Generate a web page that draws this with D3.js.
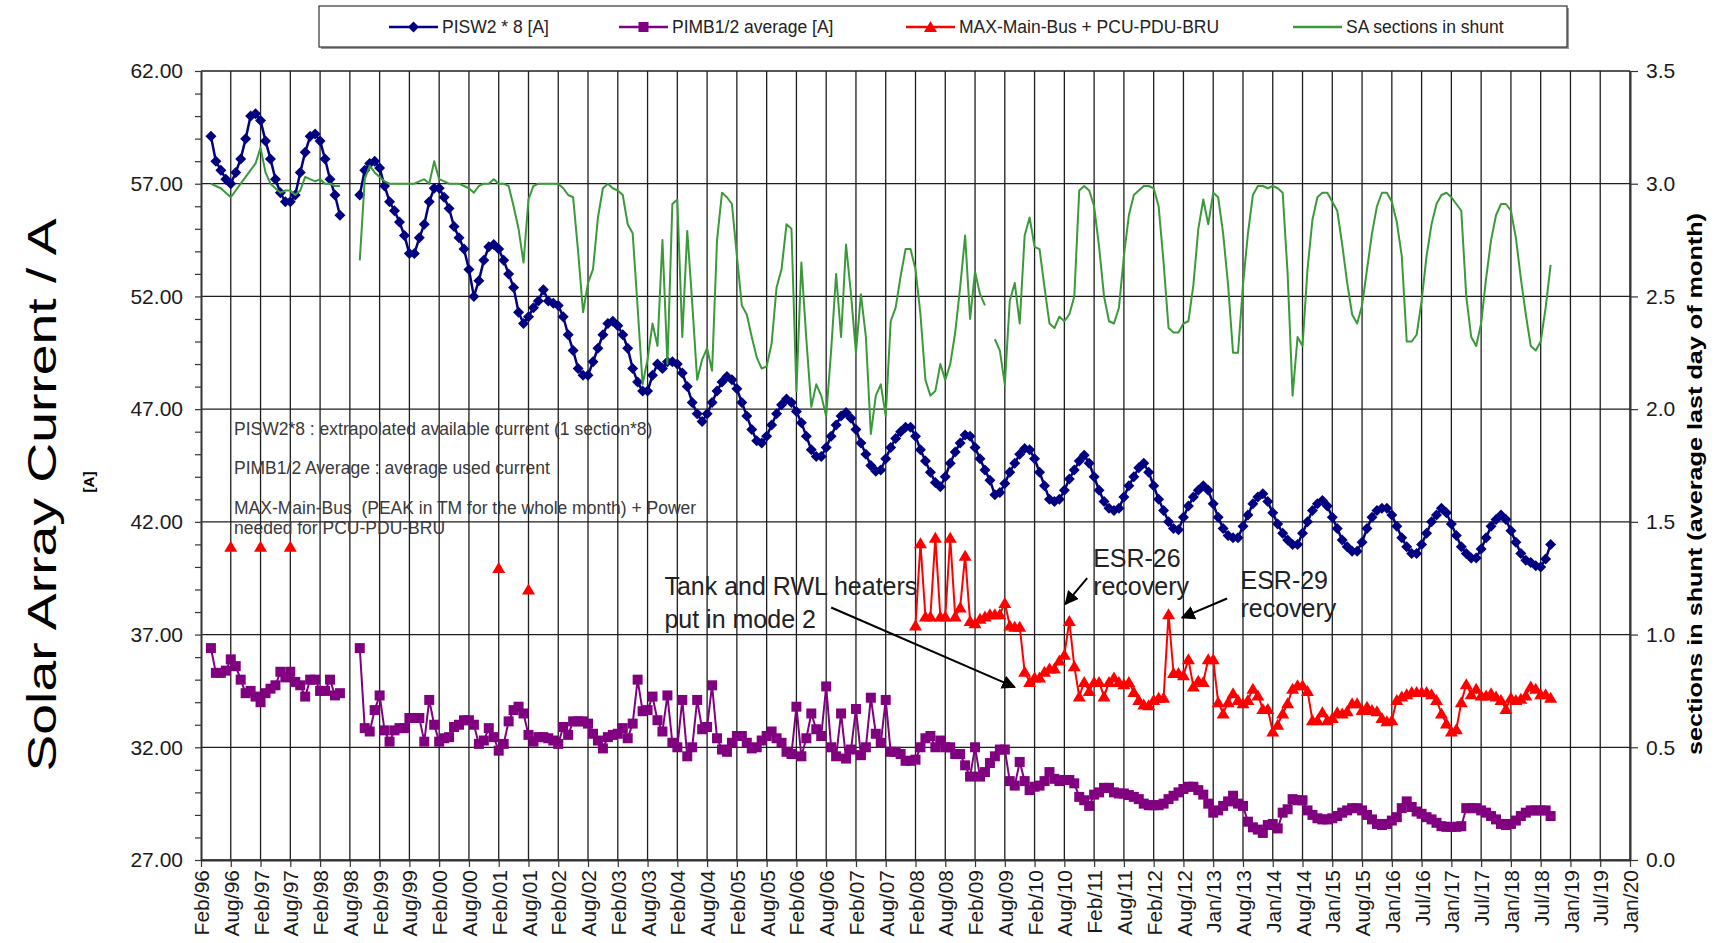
<!DOCTYPE html>
<html>
<head>
<meta charset="utf-8">
<script src="https://cdn.jsdelivr.net/npm/d3@7"></script>
<style>
  html, body { margin: 0; padding: 0; background: #fff; }
  svg { display: block; }
  text { font-family: "Liberation Sans", Arial, sans-serif; }
</style>
</head>
<body>
<svg id="chart" width="1717" height="943"></svg>
<script>
// Category labels along the time axis, one every six monthly slots
const tickLabels = [
  "Feb/96","Aug/96","Feb/97","Aug/97","Feb/98","Aug/98","Feb/99","Aug/99",
  "Feb/00","Aug/00","Feb/01","Aug/01","Feb/02","Aug/02","Feb/03","Aug/03",
  "Feb/04","Aug/04","Feb/05","Aug/05","Feb/06","Aug/06","Feb/07","Aug/07",
  "Feb/08","Aug/08","Feb/09","Aug/09","Feb/10","Aug/10","Feb/11","Aug/11",
  "Feb/12","Aug/12","Jan/13","Aug/13","Jan/14","Aug/14","Jan/15","Aug/15",
  "Jan/16","Jul/16","Jan/17","Jul/17","Jan/18","Jul/18","Jan/19","Jul/19","Jan/20"
];
const leftTicks = [27, 32, 37, 42, 47, 52, 57, 62];
const rightTicks = [0, 0.5, 1, 1.5, 2, 2.5, 3, 3.5];

// Monthly series start two slots after Feb/96; null = no telemetry that month
const firstMonth = 2;

// PISW2 * 8 [A]
const pisw2 = [
  59.1,58.0,57.6,57.2,57.0,57.5,58.1,59.0,60.0,60.1,59.8,58.9,58.1,57.2,56.6,56.2,56.2,56.5,57.5,58.4,
  59.1,59.2,58.9,58.1,57.2,56.5,55.6,null,null,null,
  56.5,57.6,57.9,58.0,57.7,56.9,56.2,55.8,55.3,54.7,53.9,53.9,54.6,55.2,56.2,56.8,56.8,56.4,55.9,55.1,
  54.6,54.1,53.2,52.0,52.7,53.6,54.2,54.3,
  54.1,53.6,53.0,52.4,51.3,50.8,51.1,51.5,51.8,52.3,
  51.8,51.7,51.6,51.1,50.3,49.6,48.8,48.5,48.5,49.1,
  49.7,50.3,50.8,50.9,50.7,50.3,49.7,48.8,48.2,47.8,
  47.8,48.5,49.0,48.8,49.1,49.1,49.0,48.6,48.0,47.3,
  46.8,46.45,46.8,47.3,47.8,48.2,48.45,48.3,47.9,47.3,
  46.7,46.1,45.6,45.5,45.8,46.3,46.8,47.2,47.45,47.3,
  46.9,46.4,45.8,45.2,44.9,44.9,45.3,45.8,46.3,46.7,
  46.85,46.6,46.1,45.5,45.0,44.5,44.25,44.3,44.8,45.3,
  45.7,46.0,46.2,46.2,45.8,45.2,44.7,44.2,43.75,43.56,
  44.0,44.6,45.1,45.5,45.85,45.8,45.3,44.8,44.3,43.85,
  43.2,43.3,43.7,44.2,44.6,45.0,45.25,45.2,44.8,44.2,
  43.6,43.0,42.9,43.0,43.4,43.9,44.3,44.7,
  44.96,44.6,44.0,43.4,42.9,42.6,42.5,42.6,43.1,43.6,44.0,
  44.4,44.6,44.2,43.6,43.0,42.5,42.0,41.7,41.65,42.2,
  42.7,43.1,43.4,43.6,43.4,42.8,42.2,41.7,41.4,41.3,
  41.3,41.8,42.3,42.8,43.1,43.25,42.9,42.4,41.9,41.5,
  41.2,41.0,41.0,41.5,42.0,42.5,42.8,42.95,42.7,42.2,
  41.7,41.2,40.9,40.7,40.7,41.1,41.7,42.2,42.5,42.6,
  42.6,42.3,41.8,41.3,40.9,40.6,40.6,41.0,41.5,42.0,
  42.3,42.6,42.4,41.9,41.4,40.9,40.6,40.4,40.4,40.8,
  41.3,41.8,42.1,42.3,42.1,41.6,41.1,40.6,40.3,40.2,
  40.05,40.0,40.35,41.0
];

// PIMB1/2 average [A]
const pimbAverage = [
  36.4,35.3,35.3,35.4,35.9,35.6,35.0,34.4,34.5,34.25,34.0,34.4,34.6,34.75,35.35,35.1,35.35,34.9,34.75,34.25,
  35.0,35.0,34.5,34.5,35.0,34.3,34.4,null,null,null,
  36.4,32.85,32.7,33.65,34.3,32.75,32.25,32.75,32.85,32.85,33.3,33.3,33.3,32.25,34.1,33.0,32.25,32.4,32.45,32.9,
  33.0,33.2,33.2,33.0,32.15,32.3,32.85,32.45,
  31.85,32.15,33.15,33.65,33.8,33.5,32.55,32.25,32.45,32.45,32.4,32.3,32.15,32.9,32.55,33.15,
  33.15,33.15,33.05,32.6,32.3,31.95,32.45,32.55,32.6,32.85,32.4,33.05,35.0,33.6,33.65,34.25,
  33.2,32.7,34.3,32.2,32.0,34.1,31.6,32.0,34.1,32.8,
  32.9,34.75,32.4,31.9,31.8,32.2,32.5,32.5,32.2,31.95,
  32.0,32.3,32.5,32.7,32.4,32.2,31.8,31.7,33.8,31.6,
  32.4,33.5,32.8,32.5,34.7,32.0,31.6,33.5,31.5,31.9,
  33.7,31.65,32.0,34.2,32.6,32.2,34.1,31.8,31.8,31.7,
  31.4,31.4,31.45,32.0,32.4,32.5,32.0,32.3,32.0,32.0,
  31.7,31.7,31.2,30.7,32.0,30.7,30.9,31.3,31.6,31.9,
  31.9,30.5,30.3,31.35,30.5,30.1,30.25,30.3,30.5,30.9,
  30.6,30.5,30.55,30.55,30.4,29.8,29.65,29.4,29.9,30.0,
  30.2,30.2,30.0,29.95,29.95,29.88,29.8,
  29.7,29.5,29.43,29.43,29.43,29.5,29.7,29.85,30.0,30.15,
  30.25,30.25,30.1,29.9,29.5,29.1,29.2,29.4,29.6,29.85,
  29.5,29.4,28.7,28.45,28.35,28.2,28.55,28.6,28.4,29.1,
  29.25,29.7,29.65,29.65,29.2,29.0,28.85,28.8,28.8,28.85,
  28.95,29.1,29.2,29.3,29.3,29.2,29.0,28.8,28.6,28.55,
  28.6,28.75,28.9,29.3,29.6,29.35,29.15,29.05,28.9,28.8,
  28.65,28.5,28.47,28.47,28.47,28.5,29.3,29.3,29.3,29.2,
  29.1,28.95,28.8,28.6,28.55,28.6,28.75,28.95,29.1,29.2,
  29.2,29.2,29.2,28.95
];

// SA sections in shunt (right axis)
const shuntSections = [
  3.0,2.99,2.98,2.96,2.94,2.97,3.0,3.03,3.06,3.09,3.16,3.05,3.0,2.98,2.96,2.97,2.97,2.95,2.97,3.03,
  3.02,3.01,3.02,3.0,3.0,2.99,2.99,null,null,null,
  2.66,3.02,3.08,3.05,3.03,3.01,3.0,3.0,3.0,3.0,3.0,3.0,3.01,3.02,3.0,3.1,3.02,3.01,3.0,3.0,
  3.0,2.99,2.98,2.96,2.99,3.0,3.0,3.02,
  3.0,3.0,2.99,2.9,2.8,2.65,2.93,
  2.99,3.0,3.0,3.0,3.0,3.0,2.98,2.95,2.94,2.7,2.43,2.56,2.62,2.85,2.98,3.0,2.98,2.97,2.95,2.82,
  2.78,2.45,2.11,2.22,2.38,
  2.28,2.75,2.20,2.91,2.93,2.32,2.79,2.47,2.13,2.22,
  2.27,2.17,2.75,2.96,2.94,2.91,2.68,2.46,2.42,2.32,
  2.23,2.18,2.19,2.29,2.54,2.62,2.82,2.80,2.08,2.65,
  2.31,2.01,2.11,2.06,1.97,2.26,2.60,2.32,2.73,2.51,
  2.25,2.51,2.32,1.89,2.06,2.11,1.97,2.39,2.45,2.59,
  2.71,2.71,2.62,2.42,2.13,2.06,2.08,2.20,2.13,2.20,
  2.34,2.54,2.77,2.40,2.61,2.51,2.46,null,
  2.31,2.26,2.11,2.48,2.56,2.38,2.77,2.85,2.72,2.71,
  2.54,2.38,2.36,2.41,2.39,2.42,2.50,2.97,2.99,
  2.97,2.90,2.72,2.50,2.39,2.38,
  2.45,2.68,2.86,2.95,2.97,2.99,2.99,2.98,2.90,2.65,
  2.36,2.34,2.34,2.38,2.39,2.55,2.80,2.93,2.82,2.96,
  2.94,2.78,2.55,2.25,2.25,2.55,2.78,2.95,2.99,2.99,
  2.98,2.99,2.98,2.96,2.60,2.06,2.32,2.28,2.62,2.84,
  2.94,2.96,2.96,2.92,2.88,2.73,2.56,2.42,2.38,2.46,
  2.62,2.78,2.90,2.96,2.96,2.92,2.83,2.68,2.30,2.30,
  2.33,2.48,2.68,2.82,2.91,2.95,2.96,2.94,2.91,2.88,
  2.50,2.32,2.28,2.38,2.58,2.75,2.86,2.91,2.91,2.88,
  2.76,2.58,2.42,2.28,2.26,2.30,2.45,2.64
];

// MAX-Main-Bus + PCU-PDU-BRU: a few isolated early readings, then monthly from Feb/08
const maxBusEarlyMonths = [6, 12, 18, 60, 66];
const maxBusEarly = [40.9, 40.9, 40.9, 39.95, 39.0];
const maxBusStart = 144;
const maxBus = [
  37.4,41.05,37.8,37.8,41.3,37.8,37.8,41.3,37.8,38.2,
  40.5,37.6,37.5,37.7,37.8,37.9,37.9,37.9,38.4,37.4,
  37.35,37.35,35.35,34.9,35.1,35.1,35.35,35.5,35.5,35.85,
  36.1,37.6,35.6,34.25,34.9,34.5,34.9,
  34.9,34.25,34.9,35.1,34.9,34.8,34.9,34.45,34.1,33.9,
  33.87,34.1,34.2,34.2,37.9,35.3,35.3,35.2,35.9,34.7,
  34.95,34.9,35.9,35.9,34.0,33.5,34.0,34.4,34.1,33.95,
  34.1,34.6,34.3,33.7,33.7,32.7,33.0,33.5,33.95,34.6,
  34.75,34.75,34.5,33.2,33.2,33.55,33.2,33.3,33.55,33.5,
  33.6,33.95,33.95,33.65,33.8,33.65,33.6,33.3,33.15,33.2,
  34.1,34.25,34.35,34.45,34.45,34.45,34.45,34.35,34.1,33.5,
  33.05,32.7,32.8,34.0,34.8,34.35,34.6,34.3,34.3,34.4,
  34.25,34.1,33.7,34.2,34.1,34.15,34.3,34.7,34.6,34.35,34.35,34.2
];

const legendItems = [
  { label: "PISW2 * 8 [A]", color: "#000080", marker: "diamond", x: 389 },
  { label: "PIMB1/2 average [A]", color: "#800080", marker: "square", x: 619 },
  { label: "MAX-Main-Bus + PCU-PDU-BRU", color: "#ff0000", marker: "triangle", x: 906 },
  { label: "SA sections in shunt", color: "#3a9a3a", marker: null, x: 1293 }
];

const noteLines = [
  "PISW2*8 : extrapolated available current (1 section*8)",
  "PIMB1/2 Average : average used current",
  "MAX-Main-Bus  (PEAK in TM for the whole month) + Power",
  "needed for PCU-PDU-BRU"
];

// ---------------------------------------------------------------
const svg = d3.select("#chart");
const x = d3.scaleLinear().domain([0, 288]).range([201, 1630]);
const yL = d3.scaleLinear().domain([27, 62]).range([860, 71]);
const yR = d3.scaleLinear().domain([0, 3.5]).range([860, 71]);

const toPoints = (arr, start) => arr.map((v, i) => ({ m: start + i, v }));
const bluePts = toPoints(pisw2, firstMonth);
const purplePts = toPoints(pimbAverage, firstMonth);
const greenPts = toPoints(shuntSections, firstMonth);
const redPts = toPoints(maxBus, maxBusStart);
const redEarlyPts = maxBusEarlyMonths.map((m, i) => ({ m, v: maxBusEarly[i] }));

// Grid
const grid = svg.append("g");
grid.selectAll("line.h").data(leftTicks).join("line")
  .attr("x1", x(0)).attr("x2", x(288))
  .attr("y1", d => yL(d)).attr("y2", d => yL(d))
  .attr("stroke", "#1e1e1e").attr("stroke-width", 1.3);
grid.selectAll("line.v").data(d3.range(6, 289, 6)).join("line")
  .attr("x1", d => x(d)).attr("x2", d => x(d))
  .attr("y1", yL(62)).attr("y2", yL(27))
  .attr("stroke", "#1e1e1e").attr("stroke-width", 1.3);

// Axes
const axisLeft = d3.axisLeft(yL)
  .tickValues(d3.range(27, 63, 1))
  .tickSize(6).tickSizeOuter(0).tickPadding(12)
  .tickFormat(d => d % 5 === 2 ? d3.format(".2f")(d) : "");
const gL = svg.append("g").attr("transform", `translate(${x(0)},0)`).call(axisLeft);

const axisRight = d3.axisRight(yR)
  .tickValues(rightTicks).tickSize(8).tickSizeOuter(0).tickPadding(8)
  .tickFormat(d3.format(".1f"));
const gR = svg.append("g").attr("transform", `translate(${x(288)},0)`).call(axisRight);

const axisBottom = d3.axisBottom(x)
  .tickValues(d3.range(0, 289, 6)).tickSize(7).tickSizeOuter(0)
  .tickFormat((d, i) => tickLabels[i]);
const gB = svg.append("g").attr("transform", `translate(0,${yL(27)})`).call(axisBottom);
gB.selectAll("text")
  .attr("transform", "rotate(-90)")
  .attr("x", -10).attr("y", 0).attr("dy", "0.36em")
  .attr("text-anchor", "end");

[gL, gR, gB].forEach(g => {
  g.select(".domain").attr("stroke", "#333").attr("stroke-width", 2);
  g.selectAll(".tick line").attr("stroke", "#333").attr("stroke-width", 1.2);
  g.selectAll("text").attr("font-size", 21).attr("fill", "#1a1a1a")
    .attr("font-family", "'Liberation Sans', Arial, sans-serif");
});

// Explanatory notes inside the plot
const notes = svg.append("g").attr("font-size", 17.5).attr("fill", "#3a3a3a");
const noteY = [435, 474, 514, 534];
noteLines.forEach((t, i) => {
  notes.append("text").attr("x", 234).attr("y", noteY[i])
    .style("white-space", "pre").text(t);
});

// Marker shapes
const markerPath = {
  diamond: "M0,-5.5L5.5,0L0,5.5L-5.5,0Z",
  square: "M-5,-5H5V5H-5Z",
  triangle: "M0,-6L6.5,5L-6.5,5Z"
};

function drawLine(points, yScale, color, width) {
  const line = d3.line()
    .defined(d => d.v != null)
    .x(d => x(d.m)).y(d => yScale(d.v));
  svg.append("path").datum(points)
    .attr("d", line).attr("fill", "none")
    .attr("stroke", color).attr("stroke-width", width)
    .attr("stroke-linejoin", "round");
}
function drawMarkers(points, yScale, color, marker) {
  svg.append("g").selectAll("path")
    .data(points.filter(d => d.v != null)).join("path")
    .attr("transform", d => `translate(${x(d.m)},${yScale(d.v)})`)
    .attr("d", markerPath[marker]).attr("fill", color);
}

drawLine(purplePts, yL, "#800080", 2);
drawMarkers(purplePts, yL, "#800080", "square");
drawLine(redPts, yL, "#ff0000", 2);
drawMarkers(redPts, yL, "#ff0000", "triangle");
drawMarkers(redEarlyPts, yL, "#ff0000", "triangle");
drawLine(bluePts, yL, "#000080", 2.5);
drawMarkers(bluePts, yL, "#000080", "diamond");
drawLine(greenPts, yR, "#3a9a3a", 2);

// Event annotations
svg.append("defs").append("marker")
  .attr("id", "arrowHead").attr("viewBox", "0 0 10 10")
  .attr("refX", 9).attr("refY", 5)
  .attr("markerWidth", 7).attr("markerHeight", 7)
  .attr("markerUnits", "strokeWidth").attr("orient", "auto")
  .append("path").attr("d", "M0,0L10,5L0,10Z").attr("fill", "#000");

const callouts = [
  { lines: ["Tank and RWL heaters", "put in mode 2"], at: [93.4, 38.75], gap: 33,
    from: [127, 38.2], to: [164, 34.67] },
  { lines: ["ESR-26", "recovery"], at: [179.8, 40.0], gap: 28,
    from: [178.6, 39.5], to: [174.2, 38.35] },
  { lines: ["ESR-29", "recovery"], at: [209.5, 39.0], gap: 28,
    from: [206.8, 38.6], to: [197.7, 37.75] }
];
const ann = svg.append("g").attr("font-family", "Lato, 'Noto Sans', sans-serif")
  .attr("font-size", 25).attr("fill", "#222");
callouts.forEach(c => {
  c.lines.forEach((t, i) => {
    ann.append("text").attr("x", x(c.at[0])).attr("y", yL(c.at[1]) + i * c.gap).text(t);
  });
  svg.append("line")
    .attr("x1", x(c.from[0])).attr("y1", yL(c.from[1]))
    .attr("x2", x(c.to[0])).attr("y2", yL(c.to[1]))
    .attr("stroke", "#000").attr("stroke-width", 2)
    .attr("marker-end", "url(#arrowHead)");
});

// Axis titles
svg.append("text")
  .attr("transform", "translate(56,495) rotate(-90)")
  .attr("text-anchor", "middle")
  .attr("font-family", "'DejaVu Sans', Verdana, sans-serif")
  .attr("font-size", 40).attr("fill", "#000")
  .attr("textLength", 553).attr("lengthAdjust", "spacingAndGlyphs")
  .text("Solar Array Current / A");
svg.append("text")
  .attr("transform", "translate(94,482) rotate(-90)")
  .attr("text-anchor", "middle")
  .attr("font-size", 15).attr("font-weight", "bold")
  .text("[A]");
svg.append("text")
  .attr("transform", "translate(1702,484) rotate(-90)")
  .attr("text-anchor", "middle")
  .attr("font-size", 20).attr("font-weight", "bold")
  .attr("textLength", 542).attr("lengthAdjust", "spacingAndGlyphs")
  .text("sections in shunt (average last day of month)");

// Legend
const lg = svg.append("g");
lg.append("rect").attr("x", 321).attr("y", 8).attr("width", 1248).attr("height", 41)
  .attr("fill", "#9a9a9a");
lg.append("rect").attr("x", 319).attr("y", 6).attr("width", 1248).attr("height", 41)
  .attr("fill", "#fff").attr("stroke", "#333").attr("stroke-width", 1.2);
legendItems.forEach(it => {
  const cy = 27;
  lg.append("line").attr("x1", it.x).attr("x2", it.x + 49)
    .attr("y1", cy).attr("y2", cy)
    .attr("stroke", it.color).attr("stroke-width", 2.5);
  if (it.marker) {
    lg.append("path").attr("transform", `translate(${it.x + 24.5},${cy})`)
      .attr("d", markerPath[it.marker]).attr("fill", it.color);
  }
  lg.append("text").attr("x", it.x + 53).attr("y", cy + 6)
    .attr("font-size", 17.5).attr("fill", "#222").text(it.label);
});
</script>
</body>
</html>
